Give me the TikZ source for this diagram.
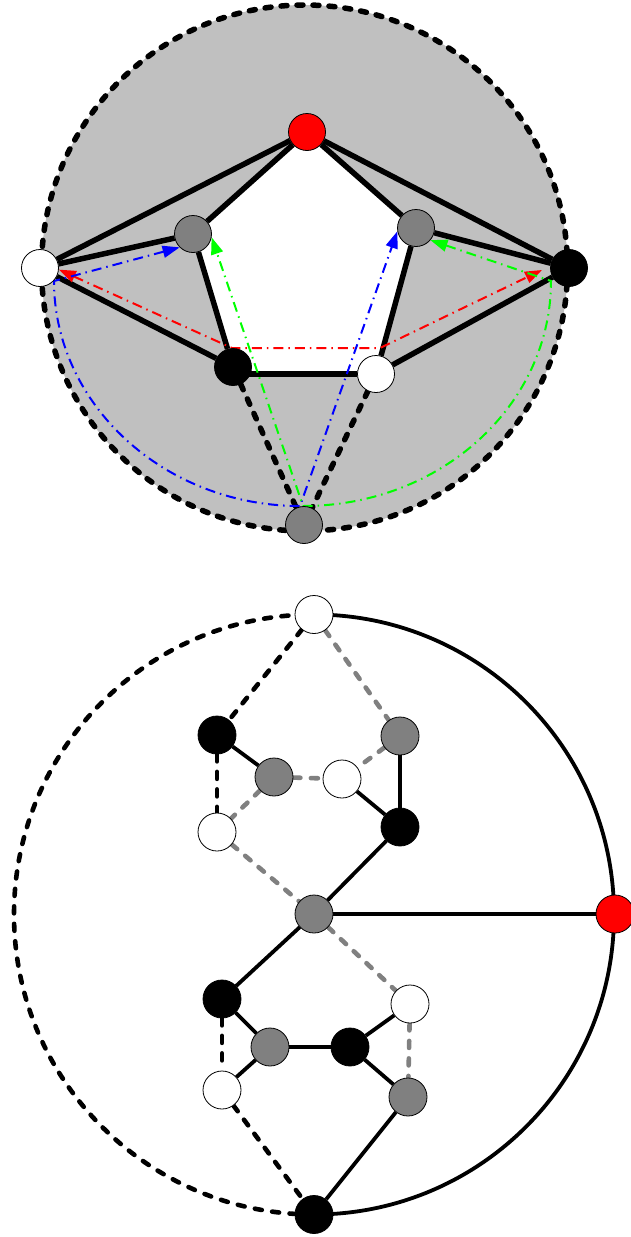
\documentclass[tikz,border=0pt]{standalone}
\usetikzlibrary{arrows.meta,backgrounds}
\definecolor{midgray}{RGB}{128,128,128}
\definecolor{diskgray}{RGB}{192,192,192}
\definecolor{puregreen}{RGB}{0,255,0}
\definecolor{pureblue}{RGB}{0,0,255}
\definecolor{purered}{RGB}{255,0,0}
\begin{document}
\begin{tikzpicture}[x=1pt,y=-1pt,
  vtx/.style={circle,draw=black,line width=0.8pt,inner sep=0pt,minimum size=37pt},
  wv/.style={vtx,fill=white},
  bv/.style={vtx,fill=black},
  gv/.style={vtx,fill=midgray},
  rv/.style={vtx,fill=purered},
  bvtx/.style={circle,draw=black,line width=0.8pt,inner sep=0pt,minimum size=38pt},
  bw/.style={bvtx,fill=white},
  bb/.style={bvtx,fill=black},
  bg/.style={bvtx,fill=midgray},
  br/.style={bvtx,fill=purered},
  topedge/.style={line width=5.5pt},
  topdash/.style={line width=5.5pt,line cap=round,dash pattern=on 6pt off 10pt},
  flow/.style={line width=2pt,dash pattern=on 10pt off 5pt on 1.5pt off 5pt,
    {Triangle[length=17pt,width=12pt]}-{Triangle[length=17pt,width=12pt]}},
  bsolid/.style={line width=3.8pt},
  bdash/.style={line width=4.6pt,line cap=round,dash pattern=on 7pt off 10.5pt},
  gdash/.style={line width=4.6pt,line cap=round,dash pattern=on 7pt off 10.5pt,draw=midgray}]
\useasboundingbox (0,0) rectangle (631,1237);

% ---------- top diagram ----------
\node[rv] (t0) at (307,132) {};
\node[gv] (tgl) at (193,234) {};
\node[gv] (tgr) at (416,228) {};
\node[wv] (twl) at (40,268) {};
\node[bv] (tbr) at (569,268) {};
\node[bv] (tbl) at (233,367) {};
\node[wv] (twr) at (376,374) {};
\node[gv] (tgb) at (304,525) {};
\coordinate (rtip) at (542,270);

\begin{scope}[on background layer]
  \fill[diskgray] (304.5,268) circle[radius=263];
  \fill[white] (t0.center) -- (tgr.center) -- (twr.center) -- (tbl.center |- twr.center) -- (tgl.center) -- cycle;
  \draw[topedge] (t0) -- (twl);
  \draw[topedge] (t0) -- (tgl);
  \draw[topedge] (t0) -- (tgr);
  \draw[topedge] (t0) -- (tbr);
  \draw[topedge] (twl) -- (tgl);
  \draw[topedge] (twl) -- (tbl);
  \draw[topedge] (tgl) -- (tbl);
  \draw[topedge] (twr) -- (tbl.center |- twr.center);
  \draw[topedge] (twr) -- (tgr);
  \draw[topedge] (twr) -- (tbr);
  \draw[topedge] (tgr) -- (tbr);
  \draw[topdash] (tbl) -- (tgb);
  \draw[topdash] (twr) -- (tgb);
  \draw[topdash] (304.5,268) circle[radius=263];
  \draw[flow,purered] (twl.-5) -- (232,348) -- (380,348) -- (rtip);
  \draw[flow,pureblue] (tgl.225) -- (54,281) .. controls (54,404) and (164,506) .. (300,506) -- (tgr.190);
  \draw[flow,puregreen] (tgr.-40) -- (551,281) .. controls (551,405) and (441,506) .. (303,506) -- (tgl.-10);
\end{scope}

% ---------- bottom diagram ----------
\node[bw] (b1) at (314,614.5) {};
\node[bb] (b2) at (217,735) {};
\node[bg] (b3) at (400,736) {};
\node[bg] (b4) at (274,777) {};
\node[bw] (b5) at (342,779) {};
\node[bw] (b6) at (217,832) {};
\node[bb] (b7) at (400,827) {};
\node[bg] (b8) at (314,914) {};
\node[br] (b9) at (615,914) {};
\node[bb] (b10) at (222,999) {};
\node[bw] (b11) at (410,1004) {};
\node[bg] (b12) at (270,1047) {};
\node[bb] (b13) at (350,1047) {};
\node[bw] (b14) at (222,1090) {};
\node[bg] (b15) at (408,1097) {};
\node[bb] (b16) at (314,1214.5) {};

\begin{scope}[on background layer]
  \draw[bsolid] (b1.center) arc[start angle=-90,end angle=90,radius=300];
  \draw[bdash] (b16.center) arc[start angle=90,end angle=270,radius=300];
  \draw[bsolid] (b2) -- (b4);
  \draw[bsolid] (b5) -- (b7);
  \draw[bsolid] (b3) -- (b7);
  \draw[bsolid] (b7) -- (b8);
  \draw[bsolid] (b8) -- (b9);
  \draw[bsolid] (b8) -- (b10);
  \draw[bsolid] (b10) -- (b12);
  \draw[bsolid] (b12) -- (b13);
  \draw[bsolid] (b12) -- (b14);
  \draw[bsolid] (b13) -- (b11);
  \draw[bsolid] (b13) -- (b15);
  \draw[bsolid] (b15) -- (b16);
  \draw[bdash] (b1) -- (b2);
  \draw[bdash] (b2) -- (b6);
  \draw[bdash] (b10) -- (b14);
  \draw[bdash] (b14) -- (b16);
  \draw[gdash] (b1) -- (b3);
  \draw[gdash] (b4) -- (b5);
  \draw[gdash] (b3) -- (b5);
  \draw[gdash] (b4) -- (b6);
  \draw[gdash] (b6) -- (b8);
  \draw[gdash] (b8) -- (b11);
  \draw[gdash] (b11) -- (b15);
\end{scope}
\end{tikzpicture}
\end{document}
